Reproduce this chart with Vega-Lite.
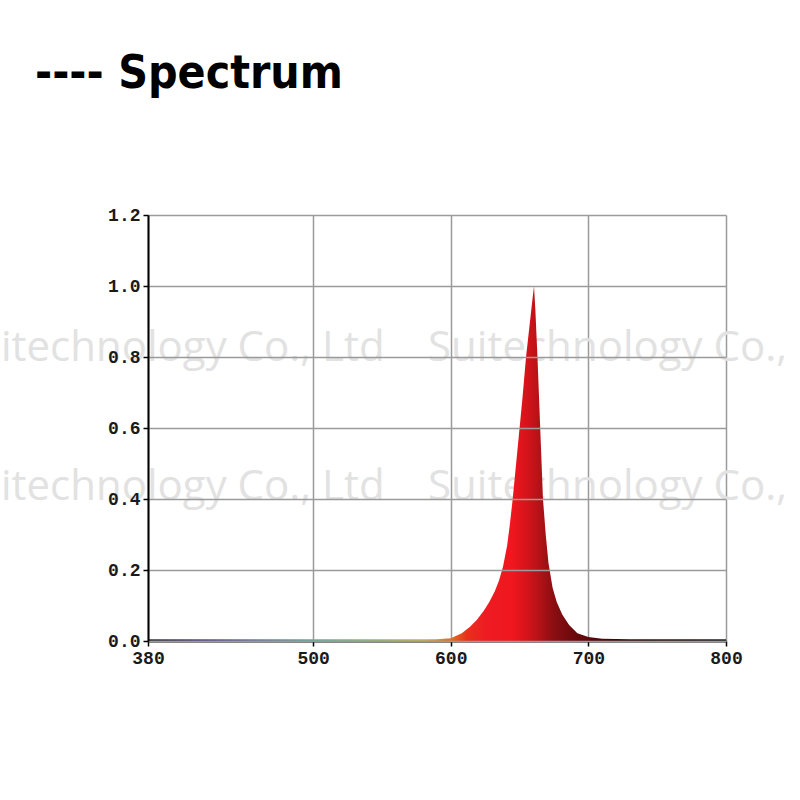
{
  "$schema": "https://vega.github.io/schema/vega-lite/v6.json",
  "autosize": {"type": "none"},
  "width": 578,
  "height": 426,
  "padding": {"left": 148, "top": 215, "right": 74, "bottom": 159},
  "background": "white",
  "title": {
    "text": "---- Spectrum",
    "anchor": "start",
    "frame": "group",
    "dx": -113,
    "offset": 72,
    "baseline": "alphabetic",
    "font": "DejaVu Sans Condensed, Roboto, sans-serif",
    "fontWeight": "bold",
    "fontSize": 46,
    "color": "#000000"
  },
  "config": {
    "view": {"stroke": null},
    "axis": {
      "labelFont": "Liberation Mono",
      "labelFontWeight": "bold",
      "labelFontSize": 18,
      "labelColor": "#1a1a1a",
      "domainColor": "#000000",
      "domainWidth": 2,
      "tickColor": "#000000",
      "tickWidth": 1.5,
      "tickSize": 5,
      "gridColor": "#9a9a9a",
      "gridWidth": 1.5,
      "gridOpacity": 1,
      "title": null
    }
  },
  "datasets": {
    "spectrum": [
      {"wavelength": 380, "intensity": 0.005},
      {"wavelength": 450, "intensity": 0.005},
      {"wavelength": 520, "intensity": 0.005},
      {"wavelength": 590, "intensity": 0.005},
      {"wavelength": 600, "intensity": 0.008},
      {"wavelength": 608, "intensity": 0.022},
      {"wavelength": 614, "intensity": 0.04},
      {"wavelength": 619, "intensity": 0.06},
      {"wavelength": 624, "intensity": 0.085},
      {"wavelength": 628, "intensity": 0.11},
      {"wavelength": 632, "intensity": 0.14},
      {"wavelength": 635, "intensity": 0.17},
      {"wavelength": 638, "intensity": 0.21},
      {"wavelength": 641, "intensity": 0.27},
      {"wavelength": 643, "intensity": 0.33},
      {"wavelength": 645, "intensity": 0.4},
      {"wavelength": 647, "intensity": 0.48},
      {"wavelength": 650, "intensity": 0.6},
      {"wavelength": 652, "intensity": 0.68},
      {"wavelength": 654.7, "intensity": 0.8},
      {"wavelength": 657, "intensity": 0.88},
      {"wavelength": 659, "intensity": 0.95},
      {"wavelength": 660.5, "intensity": 1.0},
      {"wavelength": 661.5, "intensity": 0.93},
      {"wavelength": 663, "intensity": 0.8},
      {"wavelength": 664, "intensity": 0.7},
      {"wavelength": 665, "intensity": 0.6},
      {"wavelength": 666, "intensity": 0.5},
      {"wavelength": 667, "intensity": 0.4},
      {"wavelength": 669, "intensity": 0.3},
      {"wavelength": 671, "intensity": 0.22},
      {"wavelength": 674, "intensity": 0.15},
      {"wavelength": 677, "intensity": 0.11},
      {"wavelength": 681, "intensity": 0.075},
      {"wavelength": 686, "intensity": 0.045},
      {"wavelength": 692, "intensity": 0.022},
      {"wavelength": 700, "intensity": 0.011},
      {"wavelength": 710, "intensity": 0.006},
      {"wavelength": 730, "intensity": 0.005},
      {"wavelength": 800, "intensity": 0.005}
    ],
    "watermark": [
      {"wavelength": 552, "intensity": 0.79, "label": "Suitechnology Co., Ltd", "side": "right"},
      {"wavelength": 583.5, "intensity": 0.79, "label": "Suitechnology Co., Ltd", "side": "left"},
      {"wavelength": 552, "intensity": 0.397, "label": "Suitechnology Co., Ltd", "side": "right"},
      {"wavelength": 583.5, "intensity": 0.397, "label": "Suitechnology Co., Ltd", "side": "left"}
    ]
  },
  "encoding": {
    "x": {
      "field": "wavelength",
      "type": "quantitative",
      "scale": {"domain": [380, 800], "nice": false, "zero": false},
      "axis": {"values": [380, 500, 600, 700, 800], "labelPadding": 3, "labelFlush": false}
    },
    "y": {
      "field": "intensity",
      "type": "quantitative",
      "scale": {"domain": [0, 1.2], "nice": false},
      "axis": {"values": [0, 0.2, 0.4, 0.6, 0.8, 1.0, 1.2], "format": ".1f", "labelPadding": 3, "zindex": 1}
    }
  },
  "layer": [
    {
      "data": {"name": "watermark"},
      "transform": [{"filter": "datum.side === 'right'"}],
      "mark": {"type": "text", "align": "right", "baseline": "alphabetic", "font": "Open Sans", "fontSize": 42, "color": "#e2e2e2"},
      "encoding": {"text": {"field": "label"}}
    },
    {
      "data": {"name": "watermark"},
      "transform": [{"filter": "datum.side === 'left'"}],
      "mark": {"type": "text", "align": "left", "baseline": "alphabetic", "font": "Open Sans", "fontSize": 42, "color": "#e2e2e2"},
      "encoding": {"text": {"field": "label"}}
    },
    {
      "data": {"name": "spectrum"},
      "mark": {
        "type": "area",
        "interpolate": "linear",
        "color": {
          "gradient": "linear",
          "x1": 0, "y1": 0, "x2": 1, "y2": 0,
          "stops": [
            {"offset": 0, "color": "#333333"},
            {"offset": 0.095, "color": "#5b4a8a"},
            {"offset": 0.19, "color": "#6a7aa0"},
            {"offset": 0.286, "color": "#6aa89a"},
            {"offset": 0.381, "color": "#8ab878"},
            {"offset": 0.476, "color": "#c8b050"},
            {"offset": 0.524, "color": "#e07020"},
            {"offset": 0.552, "color": "#e8301c"},
            {"offset": 0.583, "color": "#ee1c22"},
            {"offset": 0.631, "color": "#f0161e"},
            {"offset": 0.655, "color": "#d5141a"},
            {"offset": 0.679, "color": "#b01217"},
            {"offset": 0.702, "color": "#8a0e12"},
            {"offset": 0.738, "color": "#6a0a0c"},
            {"offset": 0.81, "color": "#3a0808"},
            {"offset": 1, "color": "#222222"}
          ]
        }
      }
    }
  ]
}
